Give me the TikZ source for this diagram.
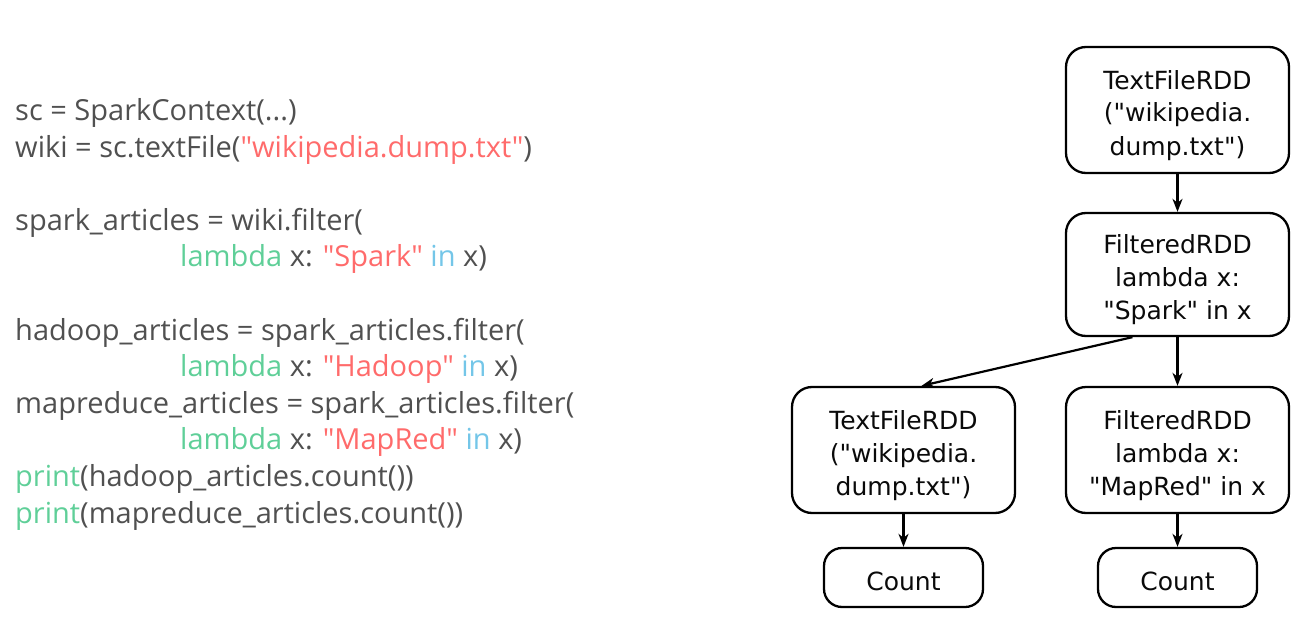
\documentclass[tikz,border=0pt]{standalone}
\usepackage{fontspec}
\newfontfamily\codefont{Open Sans}
\newfontfamily\boxfont{DejaVu Sans}
\usetikzlibrary{arrows.meta,calc}
\definecolor{codegray}{HTML}{505050}
\definecolor{codegreen}{HTML}{5FCF98}
\definecolor{codered}{HTML}{FF6B6B}
\definecolor{codeblue}{HTML}{74C6E8}
\definecolor{boxtext}{HTML}{0A0A0A}
\newcommand{\kw}[1]{\textcolor{codegreen}{#1}}
\newcommand{\str}[1]{\textcolor{codered}{#1}}
\newcommand{\op}[1]{\textcolor{codeblue}{#1}}
\begin{document}
\begin{tikzpicture}[x=1pt,y=-1pt,
  codeline/.style={anchor=base west,inner sep=0pt,text=codegray,font=\codefont\fontsize{29}{36}\selectfont},
  rdd/.style={draw,line width=2.3pt,rounded corners=20pt,minimum width=223pt,minimum height=126pt,
    align=center,inner sep=0pt,text height=96pt,text depth=6pt,text=boxtext,font=\boxfont\fontsize{25}{33}\selectfont},
  cnt/.style={rdd,minimum width=159pt,minimum height=59pt,rounded corners=18pt,text height=26pt,text depth=0pt},
  arr/.style={line width=2.2pt,-{Stealth[length=13pt,width=10pt,inset=4pt]}}]
\useasboundingbox (0,0) rectangle (1306,623);
% code
\node[codeline] (c1) at (15,120.5) {sc = SparkContext(...)};
\node[codeline] (c2) at (15,157.1) {wiki = sc.textFile(\str{"wikipedia.dump.txt"})};
\node[codeline] (c4) at (15,230.3) {spark\_articles = wiki.filter(};
\node[codeline] (c5) at (180,266.9) {\kw{lambda} x: \str{"Spark"} \op{in} x)};
\node[codeline] (c7) at (15,340.1) {hadoop\_articles = spark\_articles.filter(};
\node[codeline] (c8) at (180,376.7) {\kw{lambda} x: \str{"Hadoop"} \op{in} x)};
\node[codeline] (c9) at (15,413.3) {mapreduce\_articles = spark\_articles.filter(};
\node[codeline] (c10) at (180,449.9) {\kw{lambda} x: \str{"MapRed"} \op{in} x)};
\node[codeline] (c11) at (15,486.5) {\kw{print}(hadoop\_articles.count())};
\node[codeline] (c12) at (15,523.1) {\kw{print}(mapreduce\_articles.count())};
% diagram
\node[rdd] (top) at (1177.5,110) {TextFileRDD\\("wikipedia.\\dump.txt")};
\node[rdd,minimum height=123pt] (mid) at (1177.5,274.5) {FilteredRDD\\lambda x:\\"Spark" in x};
\node[rdd] (bl) at (903.5,450) {TextFileRDD\\("wikipedia.\\dump.txt")};
\node[rdd] (br) at (1177.5,450) {FilteredRDD\\lambda x:\\"MapRed" in x};
\node[cnt] (cl) at (903.5,577.5) {Count};
\node[cnt] (cr) at (1177.5,577.5) {Count};
\draw[arr] (top.south) -- (mid.north);
\draw[arr] ($(mid.south west)!0.3!(mid.south east)$) -- ($(bl.north)+(18,0)$);
\draw[arr] (mid.south) -- (br.north);
\draw[arr] (bl.south) -- (cl.north);
\draw[arr] (br.south) -- (cr.north);
\end{tikzpicture}
\end{document}
